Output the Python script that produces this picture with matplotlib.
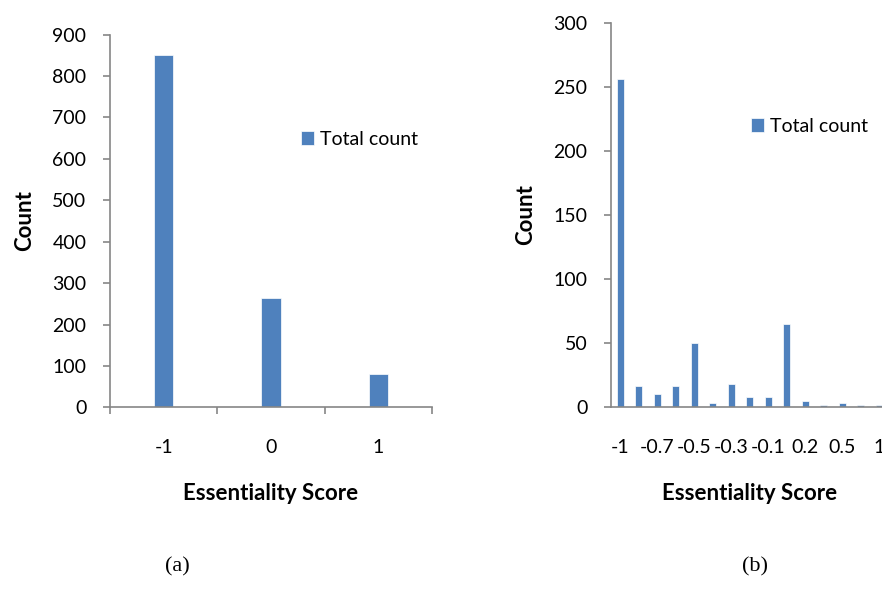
import matplotlib
matplotlib.use("Agg")
import matplotlib.pyplot as plt
from matplotlib.ticker import FixedLocator, NullFormatter

plt.rcParams['font.family'] = ['Lato', 'DejaVu Sans']

# Data
cats_a = ["-1", "0", "1"]
counts_a = [850, 265, 80]

cats_b = ["-1", "-0.8", "-0.7", "-0.6", "-0.5", "-0.4", "-0.3", "-0.2",
          "-0.1", "0", "0.2", "0.3", "0.5", "0.8", "1"]
counts_b = [256, 17, 10, 17, 50, 3, 18, 8, 8, 65, 5, 2, 3, 2, 2]

series_name = "Total count"
bar_color = "#4F81BD"
axis_color = "#868686"

W, H = 882, 606
fig = plt.figure(figsize=(W / 100, H / 100), dpi=100)


def px_axes(x0, y_top, x1, y_bot):
    return fig.add_axes([x0 / W, (H - y_bot) / H, (x1 - x0) / W, (y_bot - y_top) / H])


def style(ax):
    for s in ("top", "right"):
        ax.spines[s].set_visible(False)
    for s in ("left", "bottom"):
        ax.spines[s].set_color(axis_color)
        ax.spines[s].set_linewidth(1.2)
    ax.tick_params(axis="y", colors=axis_color, length=5, width=1.2, labelcolor="black",
                   labelsize=14, pad=12)


# ---- (a) ----
axa = px_axes(110, 34.7, 432, 407.3)
xa = list(range(len(cats_a)))
axa.bar(xa, counts_a, width=0.18, color=bar_color, edgecolor="white", linewidth=0.5,
        label=series_name)
axa.set_xlim(-0.5, len(cats_a) - 0.5)
axa.set_ylim(0, 900)
axa.set_yticks(range(0, 901, 100))
style(axa)
axa.xaxis.set_major_locator(FixedLocator([i - 0.5 for i in range(len(cats_a) + 1)]))
axa.xaxis.set_major_formatter(NullFormatter())
axa.xaxis.set_minor_locator(FixedLocator(xa))
axa.set_xticklabels(cats_a, minor=True)
axa.tick_params(axis="x", which="major", colors=axis_color, length=5, width=1.2)
axa.tick_params(axis="x", which="minor", length=0, labelsize=14, pad=23)
axa.set_ylabel("Count", fontsize=16, fontweight="bold", labelpad=12)
axa.set_xlabel("Essentiality Score", fontsize=16, fontweight="bold", labelpad=19)
axa.legend(loc="center left", bbox_to_anchor=(283 / W, 1 - 139 / H),
           bbox_transform=fig.transFigure, frameon=False, fontsize=14,
           handlelength=0.7, handleheight=0.7, handletextpad=0.3)

# ---- (b) ----
axb = px_axes(611, 22.7, 888.5, 407.3)
xb = list(range(len(cats_b)))
axb.bar(xb, counts_b, width=0.4, color=bar_color, edgecolor="white", linewidth=0.5,
        label=series_name)
axb.set_xlim(-0.5, len(cats_b) - 0.5)
axb.set_ylim(0, 300)
axb.set_yticks(range(0, 301, 50))
style(axb)
axb.set_xticks(xb[::2])
axb.set_xticklabels(cats_b[::2])
axb.tick_params(axis="x", length=0, labelsize=14, pad=23)
axb.set_ylabel("Count", fontsize=16, fontweight="bold", labelpad=12)
axb.set_xlabel("Essentiality Score", fontsize=16, fontweight="bold", labelpad=19)
axb.legend(loc="center left", bbox_to_anchor=(733 / W, 1 - 126 / H),
           bbox_transform=fig.transFigure, frameon=False, fontsize=14,
           handlelength=0.7, handleheight=0.7, handletextpad=0.3)

# Panel captions
fig.text(177 / W, 1 - 567 / H, "(a)", ha="center", va="center", fontsize=16,
         family="Liberation Serif")
fig.text(755 / W, 1 - 567 / H, "(b)", ha="center", va="center", fontsize=16,
         family="Liberation Serif")

fig.savefig("out.png", dpi=100)
